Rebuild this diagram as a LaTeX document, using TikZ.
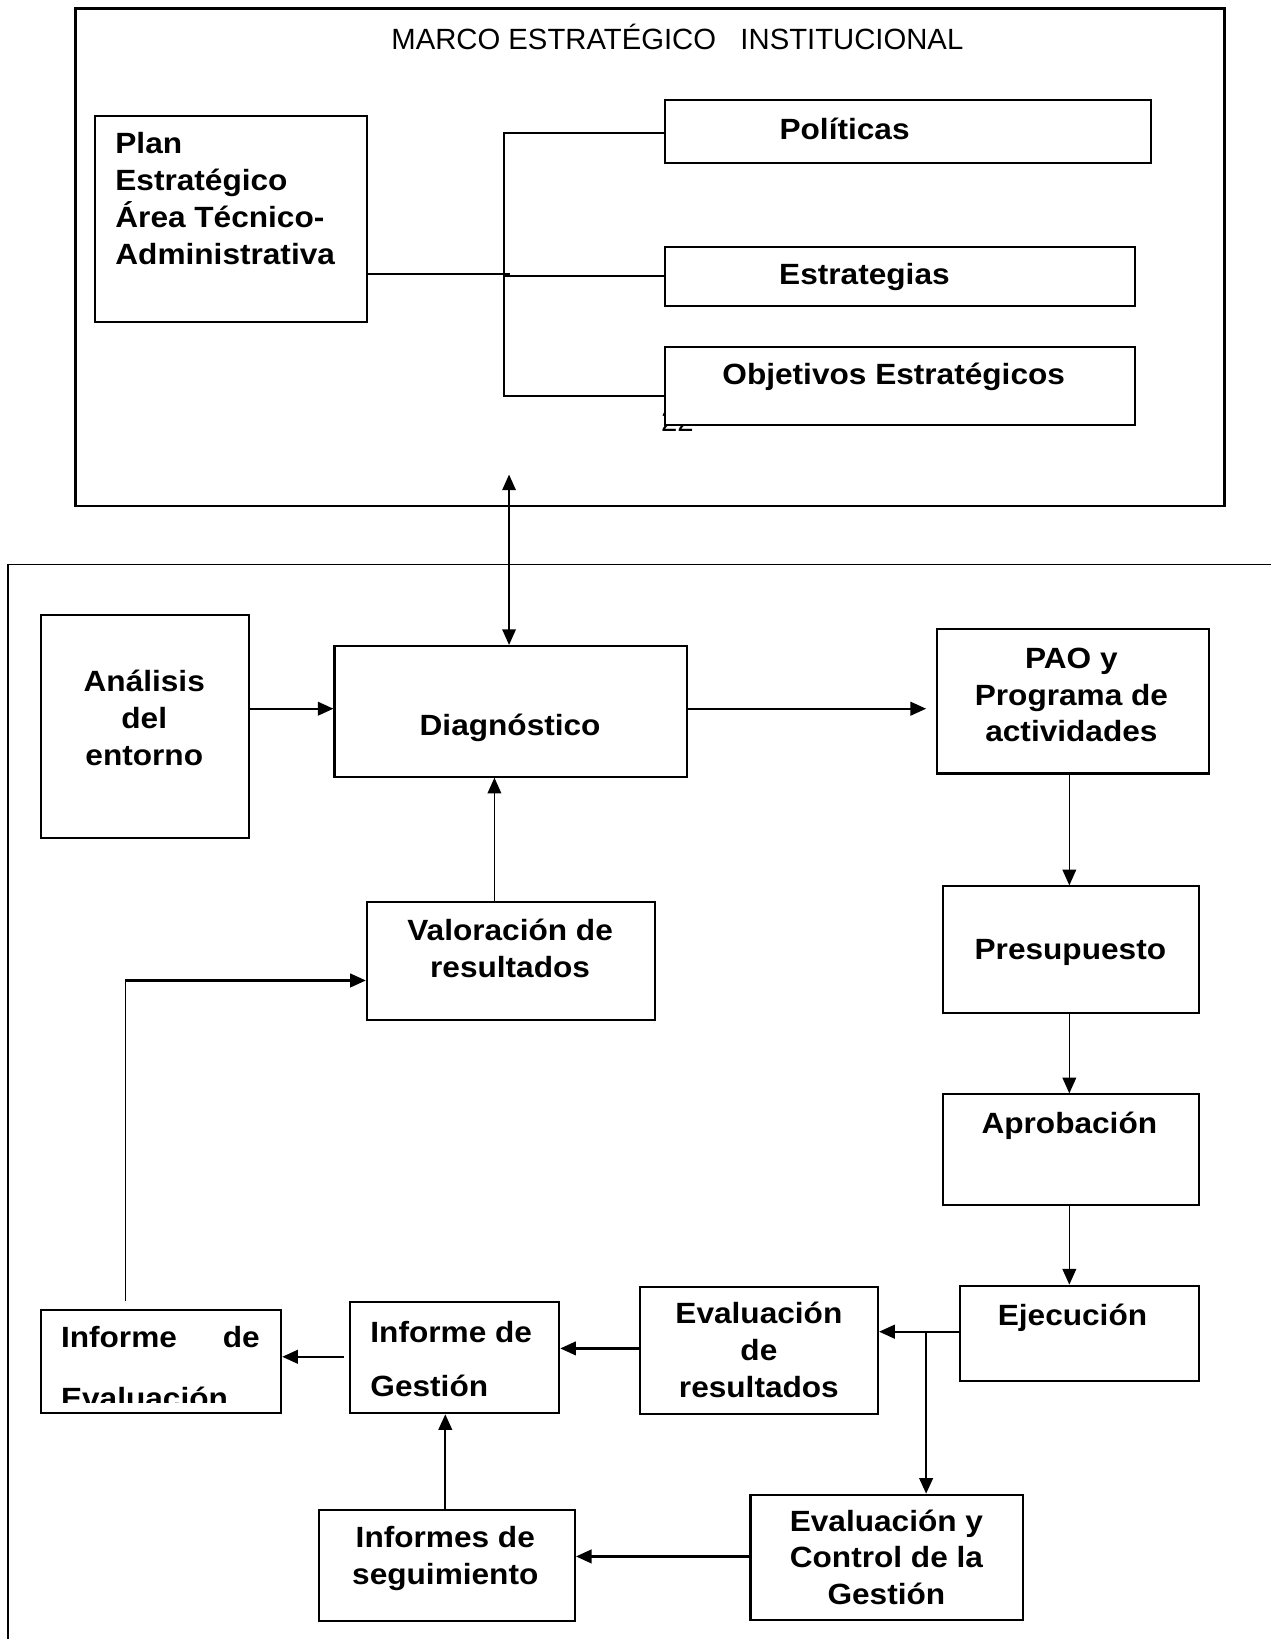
\documentclass[tikz,border=0pt]{standalone}
\usepackage{fontspec}
\setmainfont{Liberation Sans}
\newfontfamily\bfam{Liberation Sans}[FakeStretch=1.08]
\usetikzlibrary{arrows.meta}
\begin{document}
\begin{tikzpicture}[x=0.5pt,y=-0.5pt,
  bx/.style={draw, line width=1pt, fill=white, inner sep=0pt},
  rct/.style n args={4}{bx, anchor=north west, at={(#1,#2)},
    minimum width={(#3-#1)*0.5pt}, minimum height={(#4-#2)*0.5pt}},
  txt/.style={font=\bfam\bfseries\fontsize{14}{17.65}\selectfont, align=center, inner sep=0pt},
  ln/.style={line width=0.75pt},
  lnT/.style={line width=1.1pt},
  tip/.tip={Triangle[length=7.5pt,width=6.5pt]},
  arr/.style={ln,-tip},
  arrT/.style={lnT,-tip}]
\useasboundingbox (0,0) rectangle (1215,1568);

% ---------- upper frame ----------
\node[rct={71}{7}{1170}{483}, line width=1.2pt, fill=none] (marco) {};
\node[font=\fontsize{14}{16}\selectfont, inner sep=0pt, anchor=base] (ttl) at (648,47)
  {MARCO ESTRAT\'EGICO\ \ \ INSTITUCIONAL};

\node[rct={90}{110}{350}{307}] (plan) {};
\node[rct={635}{95}{1100}{155}] (pol) {};
\node[rct={635}{235}{1085}{292}] (est) {};
\node[font=\fontsize{14}{16}\selectfont, inner sep=0pt, anchor=base] (pg) at (648,413) {22};
\node[rct={635}{331}{1085}{406}] (obj) {};

\node[txt, align=left, anchor=base west] (tplan) at (110,252.6)
  {Plan\\Estratégico\\Área Técnico-\\Administrativa};
\node[txt, anchor=base] (tpol) at (808,133) {Políticas};
\node[txt, anchor=base] (test) at (827,272) {Estrategias};
\node[txt, anchor=base] (tobj) at (855,368) {Objetivos Estratégicos};

\coordinate (pj) at (488,262);
\coordinate (ta) at (482,127);
\coordinate (tm) at (482,264);
\coordinate (tb) at (482,379);
\draw[ln] (plan.east |- pj) -- (pj);
\draw[ln] (pol.west |- ta) -- (ta) -- (tb) -- (obj.west |- tb);
\draw[ln] (tm) -- (est.west |- tm);

% ---------- lower frame ----------
\coordinate (fa) at (8,1600);
\coordinate (fb) at (8,540);
\coordinate (fc) at (1240,540);
\draw[line width=0.9pt] (fa) -- (fb) -- (fc);

\node[rct={38}{587}{237}{801}] (anal) {};
\node[rct={319}{617}{656}{742}] (diag) {};
\node[rct={895}{601}{1156}{739}] (pao) {};
\node[rct={901}{847}{1146}{968}] (pres) {};
\node[rct={901}{1046}{1146}{1152}] (apro) {};
\node[rct={917}{1229}{1146}{1320}] (ejec) {};
\node[rct={611}{1230}{839}{1352}] (evres) {};
\node[rct={334}{1245}{534}{1351}] (infg) {};
\node[rct={38}{1252}{268}{1351}] (infe) {};
\node[rct={350}{862}{626}{975}] (val) {};
\node[rct={304}{1444}{549}{1550}] (infs) {};
\node[rct={717}{1429}{978}{1549}] (evc) {};

\node[txt, anchor=base] (tanal) at (138,732.6) {Análisis\\del\\entorno};
\node[txt, anchor=base] (tdiag) at (488,704) {Diagnóstico};
\node[txt, anchor=base] (tpao) at (1025,709.8) {PAO y\\Programa de\\actividades};
\node[txt, anchor=base] (tpres) at (1024,918) {Presupuesto};
\node[txt, anchor=base] (tapro) at (1023,1084) {Aprobación};
\node[txt, anchor=base] (tejec) at (1026,1268) {Ejecución};
\node[txt, anchor=base] (tevres) at (726,1336.8) {Evaluación\\de\\resultados};
\node[txt, align=left, anchor=base west] (tinfg) at (354,1336) {Informe de\\[8.4pt]Gestión};
\begin{scope}
  \clip (38,1252) rectangle (268,1342);
  \node[txt, align=left, anchor=base west] (tinfe) at (58,1347)
    {\makebox[95pt][s]{Informe\hfill de}\\[11.35pt]Evaluación};
\end{scope}
\node[txt, anchor=base] (tval) at (488,935.5) {Valoración de\\resultados};
\node[txt, anchor=base] (tinfs) at (426,1515.6) {Informes de\\seguimiento};
\node[txt, anchor=base] (tevc) at (848,1535.3) {Evaluación y\\Control de la\\Gestión};

% ---------- connectors ----------
\coordinate (da) at (487,454);
\draw[ln, tip-tip] (da) -- (da |- diag.north);

\coordinate (a1) at (237,678);
\draw[arrT] (anal.east |- a1) -- (a1 -| diag.west);
\coordinate (a2) at (656,678);
\draw[arrT] (diag.east |- a2) -- ([xshift=-4.5pt]a2 -| pao.west);

\coordinate (vx) at (473,800);
\draw[arr] (val.north -| vx) -- (diag.south -| vx);

\coordinate (rx) at (1023,800);
\draw[arr] (pao.south -| rx) -- (pres.north -| rx);
\draw[arr] (pres.south -| rx) -- (apro.north -| rx);
\draw[arr] (apro.south -| rx) -- (ejec.north -| rx);

\coordinate (ey) at (900,1274);
\draw[arrT] (ejec.west |- ey) -- (evres.east |- ey);
\coordinate (br) at (886,1274);
\draw[arrT] (br) -- (br |- evc.north);

\coordinate (gy) at (600,1290);
\draw[arrT] (evres.west |- gy) -- (infg.east |- gy);
\coordinate (hy) at (329,1298);
\draw[arrT] (hy) -- (hy -| infe.east);

\coordinate (sx) at (426,1400);
\draw[arrT] (infs.north -| sx) -- (infg.south -| sx);
\coordinate (cy) at (600,1489);
\draw[arrT] (evc.west |- cy) -- (infs.east |- cy);

\coordinate (fbk) at (120,1245);
\coordinate (fck) at (120,938);
\draw[ln] (fbk) -- (fck);
\draw[arrT] (fck) -- (fck -| val.west);
\end{tikzpicture}
\end{document}
